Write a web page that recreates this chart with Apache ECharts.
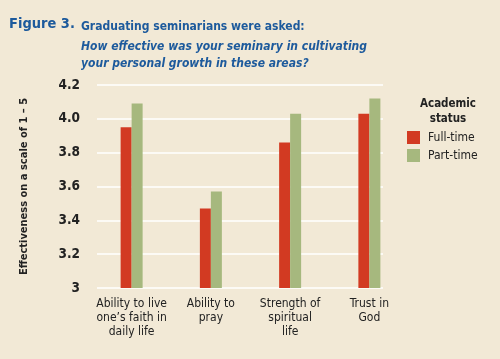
<!DOCTYPE html>
<html><head><meta charset="utf-8">
<script src="https://cdn.jsdelivr.net/npm/echarts@6/dist/echarts.min.js"></script>
<style>html,body{margin:0;padding:0;background:#f2e9d6}#c{width:500px;height:359px}</style>
</head><body><div id="c"></div>
<script>
const categories = ['Ability to live\none\u2019s faith in\ndaily life', 'Ability to\npray', 'Strength of\nspiritual\nlife', 'Trust in\nGod'];
const fullTime = [3.95, 3.47, 3.86, 4.03];
const partTime = [4.09, 3.57, 4.03, 4.12];
const yTicks = [3, 3.2, 3.4, 3.6, 3.8, 4.0, 4.2];
const seriesNames = ['Full-time', 'Part-time'];

const FONT = '"DejaVu Sans Condensed","Liberation Sans Narrow","Liberation Sans",sans-serif';
const BLUE = '#1d5a9c';
const chart = echarts.init(document.getElementById('c'));
const gTop = 85, gBottom = 359 - 288;
chart.setOption({
  backgroundColor: '#f2e9d6',
  animation: false,
  title: [
    {text: 'Figure 3.', left: 9, top: 17, padding: 0, textStyle: {fontFamily: FONT, fontSize: 14.5, fontWeight: 'bold', color: BLUE}},
    {text: 'Graduating seminarians were asked:', left: 81, top: 21, padding: 0, textStyle: {fontFamily: FONT, fontSize: 12, fontWeight: 'bold', color: BLUE}},
    {text: 'How effective was your seminary in cultivating\nyour personal growth in these areas?', left: 81, top: 38, padding: 0,
     textStyle: {fontFamily: FONT, fontSize: 12, fontWeight: 'bold', fontStyle: 'italic', color: BLUE, lineHeight: 17}},
    {text: 'Academic\nstatus', left: 448, top: 97, padding: 0, textAlign: 'center',
     textStyle: {fontFamily: FONT, fontSize: 11.5, fontWeight: 'bold', color: '#222', lineHeight: 15}}
  ],
  legend: {
    data: seriesNames, orient: 'vertical', left: 407, top: 131, padding: 0, itemWidth: 13, itemHeight: 13, itemGap: 5,
    icon: 'rect',
    textStyle: {fontFamily: FONT, fontSize: 12, color: '#222', padding: [0, 0, 0, 3]}
  },
  grid: [
    {left: 92, right: 500 - 409, top: gTop, bottom: gBottom},
    {left: 97, right: 500 - 383, top: gTop, bottom: gBottom}
  ],
  xAxis: [
    {type: 'category', gridIndex: 0, data: categories,
     axisLine: {show: false}, axisTick: {show: false},
     axisLabel: {interval: 0, fontFamily: FONT, fontSize: 12, color: '#222', lineHeight: 14, margin: 9}},
    {type: 'value', gridIndex: 1, show: false}
  ],
  yAxis: [
    {type: 'value', gridIndex: 0, min: 3, max: 4.2, interval: 0.2, show: false, splitLine: {show: false}},
    {type: 'value', gridIndex: 1, min: 3, max: 4.2, interval: 0.2,
     name: 'Effectiveness on a scale of 1 \u2013 5', nameLocation: 'middle', nameGap: 67,
     nameTextStyle: {fontFamily: FONT, fontSize: 11, fontWeight: 'bold', color: '#222'},
     axisLine: {show: false}, axisTick: {show: false},
     axisLabel: {fontFamily: FONT, fontSize: 13.5, fontWeight: 'bold', color: '#222', margin: 17,
       formatter: v => v === 3 ? '3' : v.toFixed(1)},
     splitLine: {lineStyle: {color: '#ffffff', width: 1.5}}}
  ],
  series: [
    {name: seriesNames[0], type: 'bar', xAxisIndex: 0, yAxisIndex: 0, data: fullTime, barWidth: 11, barGap: '0%',
     itemStyle: {color: '#d23a22'}, z: 3},
    {name: seriesNames[1], type: 'bar', xAxisIndex: 0, yAxisIndex: 0, data: partTime, barWidth: 11, barGap: '0%',
     itemStyle: {color: '#a6b87e'}, z: 3}
  ]
});
</script></body></html>
